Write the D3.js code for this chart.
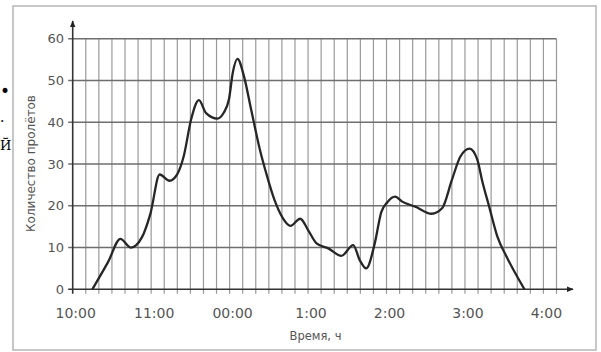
<!DOCTYPE html>
<meta charset="utf-8">
<script src="https://d3js.org/d3.v7.min.js"></script>
<style>
  body { margin: 0; background: #fff; }
  .grid-v { stroke: #9a9a9a; stroke-width: 1.2; }
  .grid-h { stroke: #6e6e6e; stroke-width: 1.4; }
  .tick-label { fill: #555; font-family: "DejaVu Sans", sans-serif; }
</style>
<svg id="chart" width="601" height="352"></svg>
<script>
  // minutes after 10:00 and number of passes
  var minutes = [15, 27, 36.5, 44.5, 53, 59.5, 66.5, 74, 80, 85, 90.5, 96.5, 102, 110.5, 115.5, 119.5, 122.5, 126, 131, 136.5,
    143.5, 148, 154.3, 160.8, 166.5, 174, 180, 186.5, 195.5, 205.5, 214.5, 219.5, 224.5, 231, 236, 240.5, 246.5,
    252, 262, 274.5, 282.5, 290, 296.5, 303.5, 309.5, 313, 318.5, 324.8, 332.5, 340, 345.5];
  var passes = [0, 6.5, 12.1, 10, 12.5, 18.2, 27.5, 26, 27.6, 32, 40.6, 45.3, 42.2, 40.9, 42.3, 45.5, 52, 55.2, 51, 43,
    33, 27.8, 21.4, 17, 15.2, 16.9, 14.2, 11, 9.8, 8, 10.6, 7, 5, 11, 18.5, 20.8, 22.2,
    21, 19.8, 18.1, 19.4, 26.2, 31.8, 33.7, 31, 26.2, 19.8, 12.6, 7.4, 3, 0];

  var xTickLabels = ["10:00", "11:00", "00:00", "1:00", "2:00", "3:00", "4:00"];
  var yTicks = [0, 10, 20, 30, 40, 50, 60];

  var svg = d3.select("#chart");

  // scanned page frame and remains of the page text at the left edge
  svg.append("rect")
    .attr("x", 13).attr("y", 6).attr("width", 583).attr("height", 344)
    .attr("fill", "none").attr("stroke", "#b5b5b5").attr("stroke-width", 1.5);
  svg.append("text").attr("x", 0).attr("y", 97).style("font-size", "17px").style("font-family", "DejaVu Sans").text("•");
  svg.append("text").attr("x", 0).attr("y", 122).style("font-size", "14px").style("font-family", "DejaVu Serif").text(".");
  svg.append("text").attr("x", 0).attr("y", 150).style("font-size", "13px").style("font-family", "DejaVu Serif").text("Й");

  var x = d3.scaleLinear().domain([0, 370]).range([72.7, 556.5]);
  var y = d3.scaleLinear().domain([0, 60]).range([289.3, 38.8]);

  // vertical grid every 10 minutes
  svg.append("g")
    .selectAll("line")
    .data(d3.range(10, 371, 10))
    .enter()
    .append("line")
    .attr("class", "grid-v")
    .attr("x1", function (d) { return x(d); })
    .attr("x2", function (d) { return x(d); })
    .attr("y1", y(60))
    .attr("y2", y(0) + 4.5);

  // horizontal grid
  svg.append("g")
    .selectAll("line")
    .data(yTicks.slice(1))
    .enter()
    .append("line")
    .attr("class", "grid-h")
    .attr("x1", x(0) - 4.5)
    .attr("x2", x(370))
    .attr("y1", function (d) { return y(d); })
    .attr("y2", function (d) { return y(d); });

  // axes with arrows
  svg.append("defs").append("marker")
    .attr("id", "arrow")
    .attr("viewBox", "0 0 10 10")
    .attr("refX", 9).attr("refY", 5)
    .attr("markerWidth", 4.5).attr("markerHeight", 4.5)
    .attr("orient", "auto")
    .append("path").attr("d", "M0,1 L10,5 L0,9 z").attr("fill", "#222");

  svg.append("line")
    .attr("x1", x(0) - 4.5).attr("x2", 573)
    .attr("y1", y(0)).attr("y2", y(0))
    .attr("stroke", "#333").attr("stroke-width", 1.6)
    .attr("marker-end", "url(#arrow)");
  svg.append("line")
    .attr("x1", x(0)).attr("x2", x(0))
    .attr("y1", y(0) + 4.5).attr("y2", 21)
    .attr("stroke", "#333").attr("stroke-width", 1.6)
    .attr("marker-end", "url(#arrow)");

  // tick labels
  svg.append("g")
    .selectAll("text")
    .data(yTicks)
    .enter()
    .append("text")
    .attr("class", "tick-label")
    .attr("x", 64)
    .attr("y", function (d) { return y(d) + 4.6; })
    .attr("text-anchor", "end")
    .style("font-size", "13px")
    .text(function (d) { return d; });

  svg.append("g")
    .selectAll("text")
    .data(xTickLabels)
    .enter()
    .append("text")
    .attr("class", "tick-label")
    .attr("x", function (d, i) { return x(i * 60) + 3; })
    .attr("y", 318)
    .attr("text-anchor", "middle")
    .style("font-size", "14px")
    .text(function (d) { return d; });

  // axis titles
  svg.append("text")
    .attr("transform", "translate(35,163.5) rotate(-90)")
    .attr("text-anchor", "middle")
    .style("font-size", "12px")
    .style("font-family", "DejaVu Sans")
    .attr("fill", "#555")
    .text("Количество пролётов");

  svg.append("text")
    .attr("x", 315.5)
    .attr("y", 340)
    .attr("text-anchor", "middle")
    .style("font-size", "11.5px")
    .style("font-family", "DejaVu Sans")
    .attr("fill", "#555")
    .text("Время, ч");

  // the curve
  var line = d3.line()
    .x(function (d) { return x(d[0]); })
    .y(function (d) { return y(d[1]); })
    .curve(d3.curveMonotoneX);

  svg.append("path")
    .datum(d3.zip(minutes, passes))
    .attr("d", line)
    .attr("fill", "none")
    .attr("stroke", "#262626")
    .attr("stroke-width", 2.3);
</script>
